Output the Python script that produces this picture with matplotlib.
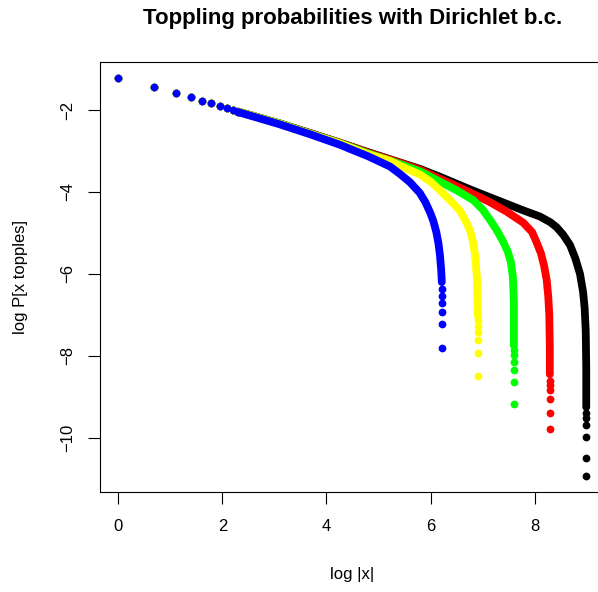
import numpy as np
import matplotlib.pyplot as plt

plt.rcParams['font.family'] = ['Liberation Sans', 'DejaVu Sans']

# Values (natural logs).
# First few sites, identical for every system size (only blue is visible on top).
head_logx = [0.00, 0.69, 1.10, 1.39, 1.61, 1.79, 1.95, 2.08, 2.20, 2.30]
head_logp = [-1.22, -1.44, -1.58, -1.68, -1.77, -1.84, -1.90, -1.95, -2.00, -2.04]

# Dense part of each curve (points merge into a band here).
black_x = [2.30, 3.10, 3.70, 4.26, 4.80, 5.41, 5.80, 6.18, 6.50, 6.82, 7.14, 7.46, 7.78,
           8.10, 8.30, 8.42, 8.55, 8.68, 8.78, 8.87, 8.93, 8.96, 8.98, 8.99, 8.99]
black_y = [-2.04, -2.33, -2.57, -2.80, -3.03, -3.28, -3.44, -3.63, -3.80, -3.97, -4.13, -4.29, -4.45,
           -4.60, -4.74, -4.86, -5.05, -5.30, -5.62, -6.00, -6.45, -6.85, -7.40, -8.30, -9.25]

red_x = [2.30, 3.10, 3.70, 4.26, 4.80, 5.41, 5.80, 6.18, 6.50, 6.82, 7.14, 7.46, 7.78,
         7.95, 8.04, 8.12, 8.18, 8.23, 8.26, 8.28, 8.29, 8.29]
red_y = [-2.04, -2.33, -2.57, -2.80, -3.04, -3.29, -3.46, -3.68, -3.86, -4.05, -4.25, -4.48, -4.75,
         -4.98, -5.24, -5.50, -5.80, -6.15, -6.55, -7.00, -7.80, -8.45]

green_x = [2.30, 3.10, 3.70, 4.26, 4.80, 5.41, 5.80, 6.18, 6.50, 6.82, 7.00, 7.14, 7.28,
           7.40, 7.48, 7.54, 7.58, 7.60, 7.60]
green_y = [-2.04, -2.33, -2.58, -2.81, -3.06, -3.32, -3.50, -3.75, -3.96, -4.20, -4.43, -4.68, -4.95,
           -5.23, -5.45, -5.70, -6.07, -6.70, -7.75]

yellow_x = [2.30, 3.10, 3.70, 4.26, 4.80, 5.22, 5.41, 5.80, 6.00, 6.18, 6.37, 6.56, 6.69,
            6.76, 6.82, 6.86, 6.89, 6.90, 6.91]
yellow_y = [-2.04, -2.34, -2.59, -2.82, -3.08, -3.24, -3.36, -3.58, -3.75, -3.96, -4.20, -4.45, -4.75,
            -4.95, -5.25, -5.60, -6.10, -6.60, -7.04]

blue_x = [2.30, 3.10, 3.70, 4.26, 4.45, 4.80, 5.22, 5.41, 5.60, 5.79, 5.90, 5.99, 6.05,
          6.11, 6.15, 6.18, 6.20, 6.21, 6.215]
blue_y = [-2.05, -2.35, -2.60, -2.85, -2.95, -3.13, -3.38, -3.56, -3.76, -4.02, -4.25, -4.50, -4.70,
          -4.98, -5.25, -5.55, -5.85, -6.05, -6.20]

# Last few sites next to the boundary (separate dots at log N).
black_tail_x, black_tail_y = 8.99, [-9.40, -9.52, -9.68, -9.98, -10.49, -10.93]
red_tail_x, red_tail_y = 8.29, [-8.60, -8.70, -8.83, -9.06, -9.39, -9.78]
green_tail_x, green_tail_y = 7.60, [-7.85, -7.98, -8.15, -8.35, -8.64, -9.17]
yellow_tail_x, yellow_tail_y = 6.91, [-7.12, -7.26, -7.42, -7.62, -7.92, -8.48]
blue_tail_x, blue_tail_y = 6.215, [-6.37, -6.54, -6.71, -6.92, -7.23, -7.80]

series = [
    ('black', black_x, black_y, black_tail_x, black_tail_y),
    ('#FF0000', red_x, red_y, red_tail_x, red_tail_y),
    ('#00FF00', green_x, green_y, green_tail_x, green_tail_y),
    ('#FFFF00', yellow_x, yellow_y, yellow_tail_x, yellow_tail_y),
    ('#0000FF', blue_x, blue_y, blue_tail_x, blue_tail_y),
]

fig = plt.figure(figsize=(5.98, 5.92), dpi=100)
ax = fig.add_axes([0.1664, 0.1689, 0.8453, 0.7264])

ms = 5.6
for color, bx, by, tx, ty in series:
    ax.plot(head_logx, head_logp, 'o', ms=ms, mew=0, color=color)
    ax.plot(bx, by, '-', lw=ms, color=color, solid_capstyle='round', solid_joinstyle='round')
    ax.plot(np.full(len(ty), tx), ty, 'o', ms=ms, mew=0, color=color)

ax.set_xlim(-0.36, 9.35)
ax.set_ylim(-11.32, -0.83)
ax.set_xticks([0, 2, 4, 6, 8])
ax.set_yticks([-10, -8, -6, -4, -2])
ax.tick_params(direction='out', length=8.5, width=0.8, labelsize=12)
ax.tick_params(axis='x', pad=11)
ax.tick_params(axis='y', pad=9)
for lbl in ax.get_yticklabels():
    lbl.set_rotation(90)
    lbl.set_va('center')
for s in ax.spines.values():
    s.set_linewidth(0.8)

fig.text(352 / 598, 1 - 575 / 592, 'log |x|', ha='center', va='center', fontsize=12)
fig.text(21 / 598, 1 - 277 / 592, 'log P[x topples]', ha='center', va='center',
         rotation=90, fontsize=12)
fig.text(353 / 598, 1 - 24 / 592, 'Toppling probabilities with Dirichlet b.c.',
         ha='center', va='baseline', fontsize=16, fontweight='bold')

fig.savefig('out.png', dpi=100)
